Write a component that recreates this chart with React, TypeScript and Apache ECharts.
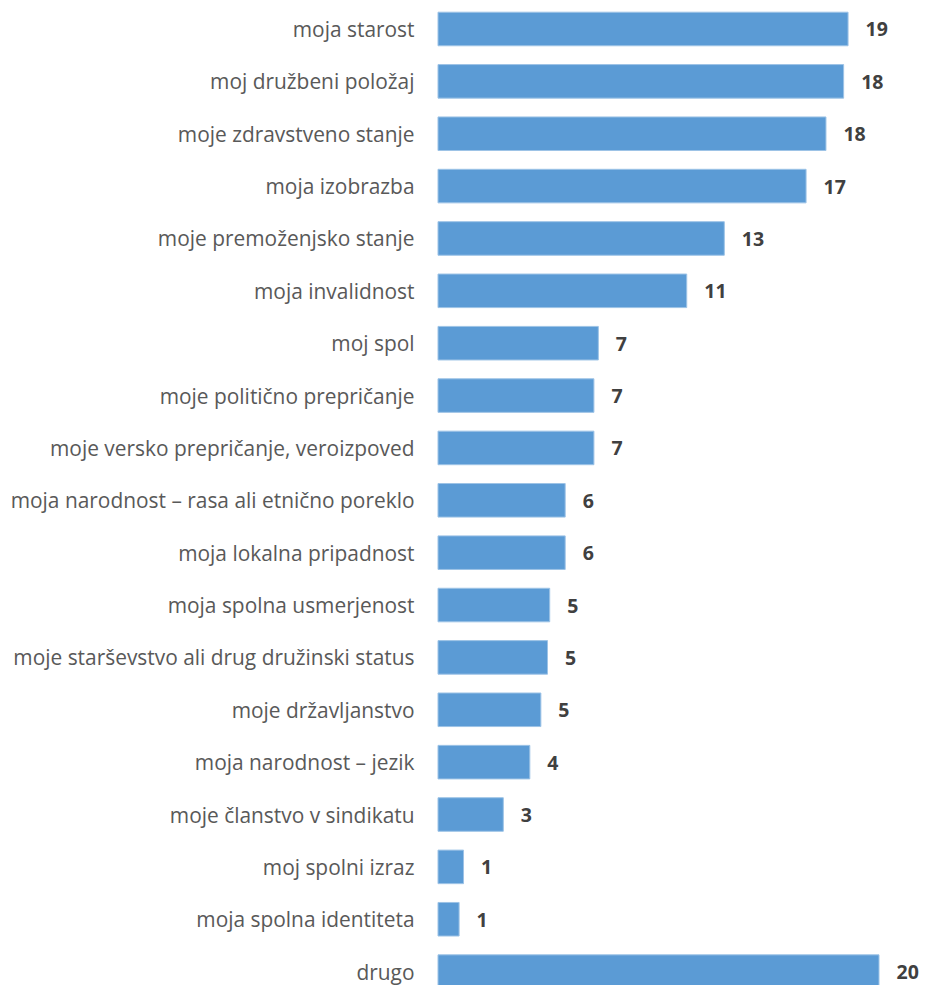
import React, { useEffect, useRef } from "react";
import * as echarts from "echarts";

const categories: string[] = [
  "moja starost",
  "moj družbeni položaj",
  "moje zdravstveno stanje",
  "moja izobrazba",
  "moje premoženjsko stanje",
  "moja invalidnost",
  "moj spol",
  "moje politično prepričanje",
  "moje versko prepričanje, veroizpoved",
  "moja narodnost – rasa ali etnično poreklo",
  "moja lokalna pripadnost",
  "moja spolna usmerjenost",
  "moje starševstvo ali drug družinski status",
  "moje državljanstvo",
  "moja narodnost – jezik",
  "moje članstvo v sindikatu",
  "moj spolni izraz",
  "moja spolna identiteta",
  "drugo",
];

const values: number[] = [
  18.6, 18.4, 17.6, 16.7, 13.0, 11.3, 7.3, 7.1, 7.1, 5.8, 5.8, 5.1, 5.0, 4.7, 4.2, 3.0, 1.2, 1.0, 20.0,
];

export default function App() {
  const ref = useRef<HTMLDivElement>(null);
  useEffect(() => {
    if (!ref.current) return;
    const chart = echarts.init(ref.current, null, { renderer: "svg" });
    chart.setOption({
      animation: false,
      backgroundColor: "#ffffff",
      grid: { left: 437.5, right: 1.3, top: 2.8, bottom: 2.2, containLabel: false },
      xAxis: {
        type: "value",
        min: 0,
        max: 22,
        show: false,
      },
      yAxis: {
        type: "category",
        inverse: true,
        data: categories,
        axisLine: { show: false },
        axisTick: { show: false },
        axisLabel: {
          margin: 23,
          color: "#595959",
          fontFamily: "Open Sans",
          fontSize: 20.9,
        },
      },
      series: [
        {
          type: "bar",
          data: values,
          barCategoryGap: "34%",
          itemStyle: { color: "#5B9BD5", borderColor: "#9DC3E6", borderWidth: 1 },
          label: {
            show: true,
            position: "right",
            distance: 17,
            color: "#404040",
            fontWeight: "bold",
            fontFamily: "Open Sans",
            fontSize: 19.5,
            formatter: (p: any) => String(Math.round(p.value)),
          },
        },
      ],
    });
    return () => chart.dispose();
  }, []);
  return (
    <div style={{ position: "fixed", left: 0, top: 0, width: 925, height: 985, overflow: "hidden", background: "#fff" }}>
      <div ref={ref} style={{ width: 925, height: 1000 }} />
    </div>
  );
}
